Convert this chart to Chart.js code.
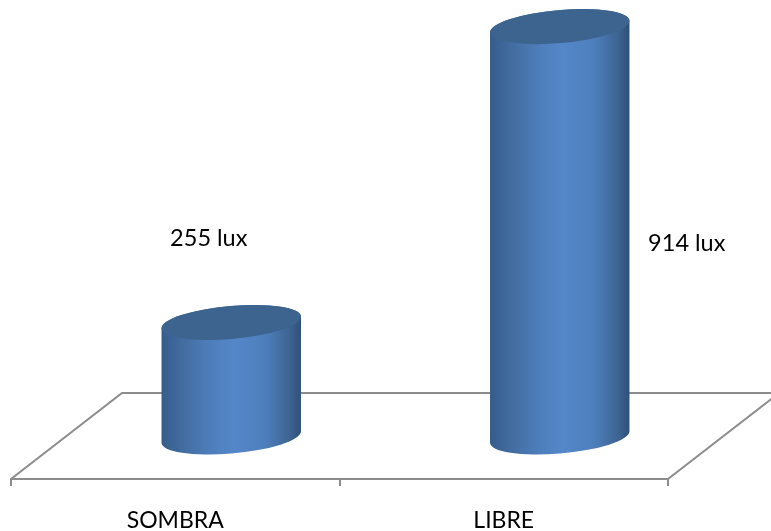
<!DOCTYPE html>
<html>
<head>
<meta charset="utf-8">
<title>Iluminación</title>
<script src="https://cdn.jsdelivr.net/npm/chart.js@4/dist/chart.umd.min.js"></script>
<style>
  html, body { margin: 0; padding: 0; background: #fff; }
  canvas { display: block; }
</style>
</head>
<body>
<canvas id="luxChart" width="771" height="531"></canvas>
<script>
const categories = ['SOMBRA', 'LIBRE'];
const luxValues = [255, 914];
const valueUnit = 'lux';

const FONT = 'Lato, "Open Sans", sans-serif';
const AXIS_COLOR = '#8c8c8c';

// Depth of the floor: how far the back edge sits from the front edge
const DEPTH_X = 111;
const DEPTH_Y = 86;

const ELLIPSE_MINOR = 16.5;
const ELLIPSE_TILT = -5 * Math.PI / 180;

// Hand placed value labels, relative to the top of each bar
const LABEL_OFFSETS = [
  { x: 33.5, y: -126 },
  { x: 183, y: 175 }
];

function cylinderGradient(ctx, left, right) {
  const gradient = ctx.createLinearGradient(left, 0, right, 0);
  gradient.addColorStop(0, '#355c8a');
  gradient.addColorStop(0.14, '#426b9e');
  gradient.addColorStop(0.36, '#4e7fbc');
  gradient.addColorStop(0.52, '#5487c9');
  gradient.addColorStop(0.74, '#4e7fbd');
  gradient.addColorStop(0.9, '#3f6796');
  gradient.addColorStop(1, '#2f5078');
  return gradient;
}

function drawCylinder(ctx, bar) {
  const cx = bar.x + DEPTH_X / 2 + 0.5;
  const baseY = bar.base - DEPTH_Y / 2 + 1;
  const topY = bar.y - DEPTH_Y / 2 + 1;
  const a = bar.width / 2;
  const b = ELLIPSE_MINOR;

  // Parameter angles where the tilted ellipse meets the vertical sides
  const tRight = Math.atan(-(b / a) * Math.tan(ELLIPSE_TILT));
  const tLeft = tRight + Math.PI;

  ctx.beginPath();
  ctx.ellipse(cx, baseY, a, b, ELLIPSE_TILT, tRight, tLeft);
  ctx.ellipse(cx, topY, a, b, ELLIPSE_TILT, tLeft, tRight + Math.PI * 2);
  ctx.closePath();
  ctx.fillStyle = cylinderGradient(ctx, cx - a, cx + a);
  ctx.fill();

  ctx.beginPath();
  ctx.ellipse(cx, topY, a, b, ELLIPSE_TILT, 0, Math.PI * 2);
  ctx.fillStyle = '#3d638f';
  ctx.fill();
}

const cylinderPlugin = {
  id: 'cylinders',
  beforeDatasetsDraw(chart) {
    const { ctx, chartArea } = chart;
    const { left, right, bottom } = chartArea;

    // Floor: two diagonals and the back edge
    ctx.save();
    ctx.strokeStyle = AXIS_COLOR;
    ctx.lineWidth = 2;
    ctx.beginPath();
    ctx.moveTo(left, bottom);
    ctx.lineTo(left + DEPTH_X, bottom - DEPTH_Y);
    ctx.lineTo(right + DEPTH_X, bottom - DEPTH_Y);
    ctx.lineTo(right, bottom);
    ctx.stroke();
    ctx.restore();
  },
  afterDatasetsDraw(chart) {
    const { ctx } = chart;
    const bars = chart.getDatasetMeta(0).data;

    ctx.save();
    bars.forEach((bar) => drawCylinder(ctx, bar));

    ctx.fillStyle = '#000';
    ctx.font = '23.5px ' + FONT;
    ctx.textAlign = 'center';
    ctx.textBaseline = 'middle';
    bars.forEach((bar, i) => {
      const offset = LABEL_OFFSETS[i];
      ctx.fillText(luxValues[i] + ' ' + valueUnit, bar.x + offset.x, bar.y + offset.y);
    });
    ctx.restore();
  }
};

new Chart(document.getElementById('luxChart'), {
  type: 'bar',
  data: {
    labels: categories,
    datasets: [
      {
        label: 'Lux',
        data: luxValues,
        backgroundColor: 'transparent',
        barPercentage: 0.426,
        categoryPercentage: 1
      }
    ]
  },
  plugins: [cylinderPlugin],
  options: {
    responsive: false,
    animation: false,
    layout: {
      padding: { left: 11, right: 103, top: 30, bottom: 0 }
    },
    plugins: {
      legend: { display: false },
      tooltip: { enabled: false }
    },
    scales: {
      x: {
        type: 'category',
        // The labels run close to the bottom of the canvas, so fix the axis height
        afterFit(scale) {
          scale.height = 52;
        },
        border: { color: AXIS_COLOR, width: 2 },
        grid: {
          color: AXIS_COLOR,
          lineWidth: 2,
          drawOnChartArea: false,
          tickLength: 7
        },
        ticks: {
          color: '#000',
          font: { family: FONT, size: 23 },
          padding: 21,
          maxRotation: 0
        }
      },
      y: {
        display: false,
        min: 0,
        max: 1000
      }
    }
  }
});
</script>
</body>
</html>
